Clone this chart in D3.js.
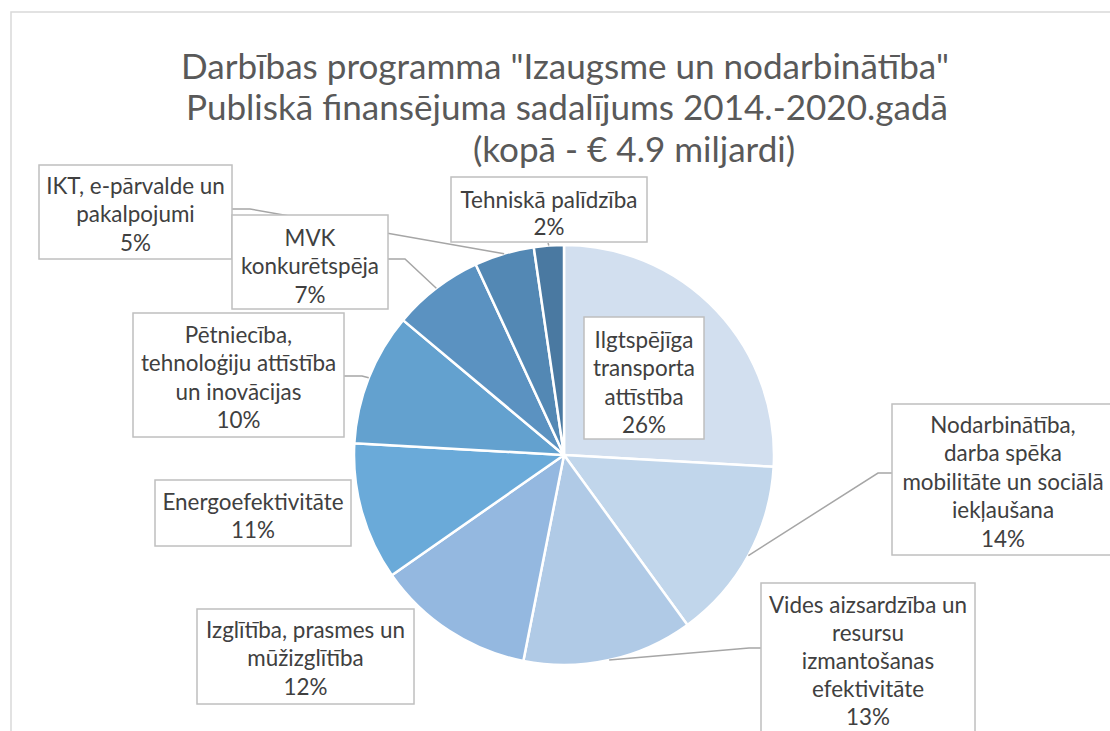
<!DOCTYPE html>
<html><head><meta charset="utf-8">
<script src="https://cdn.jsdelivr.net/npm/d3@7"></script>
<style>body{margin:0;background:#fff}svg{display:block}</style>
</head><body>
<script>
const categories = [
  "Ilgtspējīga transporta attīstība",
  "Nodarbinātība, darba spēka mobilitāte un sociālā iekļaušana",
  "Vides aizsardzība un resursu izmantošanas efektivitāte",
  "Izglītība, prasmes un mūžizglītība",
  "Energoefektivitāte",
  "Pētniecība, tehnoloģiju attīstība un inovācijas",
  "MVK konkurētspēja",
  "IKT, e-pārvalde un pakalpojumi",
  "Tehniskā palīdzība"
];
const values = [25.9, 14.1, 13.1, 12.2, 10.6, 10.2, 7.0, 4.6, 2.3];
const labelLines = [
  ["Ilgtspējīga", "transporta", "attīstība"],
  ["Nodarbinātība,", "darba spēka", "mobilitāte un sociālā", "iekļaušana"],
  ["Vides aizsardzība un", "resursu", "izmantošanas", "efektivitāte"],
  ["Izglītība, prasmes un", "mūžizglītība"],
  ["Energoefektivitāte"],
  ["Pētniecība,", "tehnoloģiju attīstība", "un inovācijas"],
  ["MVK", "konkurētspēja"],
  ["IKT, e-pārvalde un", "pakalpojumi"],
  ["Tehniskā palīdzība"]
];
const titleLines = [
  "Darbības programma \"Izaugsme un nodarbinātība\"",
  "Publiskā finansējuma sadalījums 2014.-2020.gadā",
  "(kopā - € 4.9 miljardi)"
];
const colors = ["#d2dfef", "#c1d6eb", "#b0cae6", "#94b8e0", "#6aaad9", "#63a1cf", "#5b92c1", "#5388b4", "#4a79a1"];

// layout (not data)
const W = 1110, H = 731;
const cx = 564, cy = 455, R = 210;
const boxes = [ // x, y, w, h, firstLineY, lineHeight
  [584, 317, 120, 122, 340, 28.5],
  [892, 404, 222, 151, 425, 28.5],
  [761, 583, 214, 170, 605, 28],
  [197, 609, 217, 95, 630, 28.5],
  [155, 480, 196, 66, 502, 28.5],
  [133, 313, 211, 124, 335, 28.5],
  [232, 215, 156, 94, 238, 28.5],
  [39, 165, 193, 94, 186, 28.5],
  [451, 177, 196, 65, 200, 27]
];
const leaders = { // elbow, end at box
  1: [[878, 473], [892, 473]],
  2: [[749, 648], [761, 648]],
  5: [[362, 376], [344, 376]],
  6: [[405, 259], [388, 259]],
  7: [[250, 209], [232, 209]],
  8: [[548, 243], [548, 243]]
};
const FONT = "Lato, 'Open Sans', sans-serif";

const svg = d3.select("body").append("svg").attr("width", W).attr("height", H);
svg.append("rect").attr("x", 11).attr("y", 12).attr("width", W).attr("height", H)
  .attr("fill", "#fff").attr("stroke", "#d9d9d9").attr("stroke-width", 1.5);

function fitSize(text, target, weight) {
  const t = svg.append("text").attr("font-family", FONT).attr("font-size", 100)
    .attr("font-weight", weight || 400).text(text);
  const w = t.node().getComputedTextLength();
  t.remove();
  return 100 * target / w;
}

// title
const titleSize = fitSize(titleLines[0], 768);
const titlePos = [[565, 79], [567, 120], [634, 162]];
titleLines.forEach((s, i) => {
  svg.append("text").attr("x", titlePos[i][0]).attr("y", titlePos[i][1])
    .attr("text-anchor", "middle").attr("font-family", FONT)
    .attr("font-size", titleSize).attr("fill", "#595959").text(s);
});

// pie
const total = d3.sum(values);
const pie = d3.pie().sort(null).value(d => d);
const arcs = pie(values);
const arc = d3.arc().innerRadius(0).outerRadius(R);
const edge = d3.arc().innerRadius(R).outerRadius(R);
const g = svg.append("g").attr("transform", `translate(${cx},${cy})`);
g.selectAll("path").data(arcs).join("path")
  .attr("d", arc).attr("fill", (d, i) => colors[i])
  .attr("stroke", "#fff").attr("stroke-width", 2.5).attr("stroke-linejoin", "round");

// leaders
const lineGen = d3.line();
Object.keys(leaders).forEach(k => {
  const i = +k;
  const c = edge.centroid(arcs[i]);
  const p0 = [cx + c[0], cy + c[1]];
  svg.append("path").attr("d", lineGen([p0, leaders[k][0], leaders[k][1]]))
    .attr("fill", "none").attr("stroke", "#a6a6a6").attr("stroke-width", 1.5);
});

// labels
const labelSize = fitSize("Tehniskā palīdzība", 177);
const order = [7, 6, 8, 5, 4, 3, 0, 1, 2];
order.forEach(i => {
  const b = boxes[i];
  svg.append("rect").attr("x", b[0]).attr("y", b[1]).attr("width", b[2]).attr("height", b[3])
    .attr("fill", "#fff").attr("stroke", "#bfbfbf").attr("stroke-width", 1.5);
  const lines = labelLines[i].concat([Math.round(values[i] / total * 100) + "%"]);
  const t = svg.append("text").attr("font-family", FONT).attr("font-size", labelSize)
    .attr("fill", "#404040").attr("text-anchor", "middle");
  lines.forEach((s, j) => {
    t.append("tspan").attr("x", b[0] + b[2] / 2).attr("y", b[4] + j * b[5])
      .attr("dy", "0.35em").text(s);
  });
});
</script>
</body></html>
